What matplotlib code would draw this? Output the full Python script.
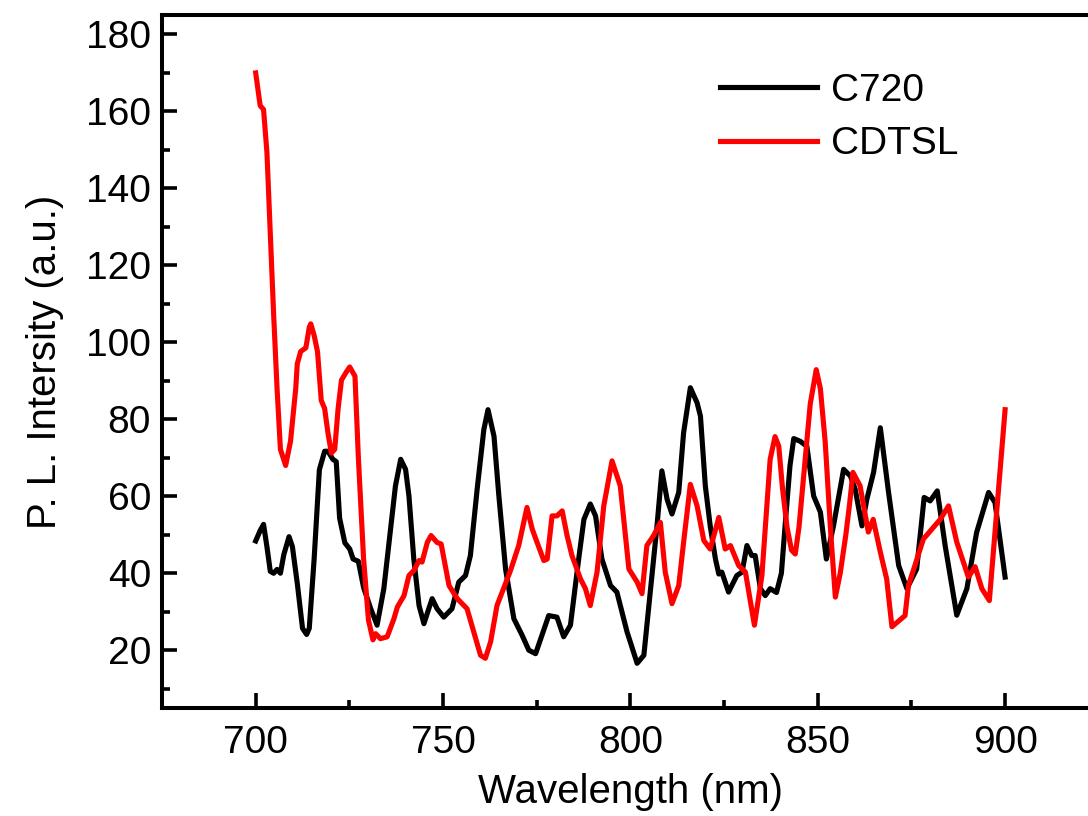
import matplotlib
matplotlib.use("Agg")
import matplotlib.pyplot as plt
from matplotlib.ticker import MultipleLocator

# -------------------------------
# PL spectra: C720 vs CDTSL
# -------------------------------

c720_nm = [700, 701.2, 702.1, 703, 703.9, 704.8, 705.7, 706.6, 707.5, 708.9, 709.8,
           711.1, 712.5, 713.6, 714.3, 715.6, 717, 718.4, 719.3, 720.6, 721.5, 722.4,
           723.8, 725.1, 726, 727.4, 728.8, 730.7, 732.4, 734.2, 736, 737.3, 738.7,
           740, 740.9, 742.2, 743.6, 744.9, 746.2, 747.1, 748.4, 750.2, 752.4, 754.2,
           756, 757.3, 759.1, 760.9, 762, 763.6, 764.9, 766.7, 768.9, 771.1, 772.9,
           774.7, 776.4, 778.2, 780.4, 782.2, 784, 786.2, 787.6, 789.3, 790.7, 792.4,
           794.7, 796.4, 799.1, 801.8, 803.6, 805.3, 807.1, 808.4, 809.8, 811.1, 812.9,
           814.2, 816, 817.8, 818.7, 820, 821.3, 822.7, 823.6, 824.4, 826.2, 828.4,
           829.8, 831.1, 832.4, 833.3, 834.7, 836, 837.3, 839, 840.3, 841.5, 842.6,
           843.6, 845.3, 847.1, 848.9, 850.7, 852.3, 854.2, 856.9, 858.7, 860, 861.8,
           863.1, 864.9, 866.7, 868.9, 871.6, 873.8, 876.4, 878.4, 880, 881.9, 884,
           887.1, 889.8, 892.4, 895.6, 897.3, 900]
c720_pl = [48.4, 51.1, 52.7, 46.9, 40.5, 40, 41, 40, 44.8, 49.5, 46.9,
           37.4, 25.7, 24.1, 25.7, 43.7, 66.9, 71.7, 71.7, 69.6, 69, 54.3,
           47.9, 46.3, 43.7, 43.1, 36.3, 30.8, 26.5, 36, 51.5, 62.7, 69.6,
           67, 60.1, 43.7, 31.6, 26.9, 30.8, 33.4, 30.8, 28.6, 30.8, 37.7,
           39.4, 44.6, 61.8, 77.4, 82.5, 75.6, 60.1, 41, 28.2, 23.9, 20,
           19.1, 23.9, 29, 28.6, 23.5, 26.5, 43.7, 54, 58, 54.9, 43.7,
           36.8, 35.1, 24.8, 16.6, 18.7, 35.1, 52.3, 66.6, 59.2, 55.4, 61,
           76.5, 88.2, 84.3, 80.8, 62.7, 52.3, 43.7, 39.8, 40.3, 35.1, 39.4,
           40.3, 47.2, 44.6, 44.6, 36, 34.2, 36, 35, 40, 55, 68,
           75, 74.3, 73, 60.1, 55.9, 43.7, 52.3, 67, 65.3, 61.8, 52.3,
           59.2, 66.2, 77.8, 61, 42, 36, 41.1, 59.7, 58.8, 61.4, 47.2,
           29.1, 36, 50.6, 61, 58.4, 39]

cdtsl_nm = [700, 701.2, 702.1, 703, 703.9, 704.8, 705.7, 706.6, 708, 709.3, 710.7,
            711.1, 712, 713.4, 714.3, 714.7, 715.6, 716.5, 717.5, 718.4, 719.3, 720.2,
            721.1, 722, 722.9, 724.2, 725.1, 726.5, 727.4, 728.8, 730.1, 731.3, 732,
            733.3, 735.1, 736.9, 737.8, 739.6, 740.9, 742.2, 743.6, 744.4, 745.8, 746.8,
            748.4, 749.5, 751.6, 753.8, 756.4, 758.2, 760, 761.3, 762.7, 764.4, 768,
            770.2, 772.4, 773.8, 775.1, 776.9, 777.8, 779.1, 780.4, 781.8, 783.1, 784.4,
            786.7, 788, 789.3, 791.1, 792.9, 795.1, 797.3, 799.6, 801.8, 803.1, 804.4,
            806.2, 808, 809.3, 811.1, 812.9, 814.2, 816, 817.8, 819.6, 821.3, 823.6,
            825.3, 826.7, 828.9, 830.7, 833.1, 835.1, 837.3, 838.6, 839.6, 840.6, 841.8,
            843, 844, 845, 846.5, 848, 849.6, 850.7, 852, 853.5, 854.7, 856,
            857.5, 858.5, 859.4, 861.3, 863.5, 864.8, 866.7, 868.4, 869.8, 873.3, 874.2,
            878.2, 882.7, 884.9, 887.1, 890.2, 892, 893.8, 895.8, 900]
cdtsl_pl = [170, 161.5, 160.5, 149.4, 128.2, 107.1, 88.1, 72.2, 68, 74.3, 88.1,
            94.4, 97.6, 98.6, 103.9, 104.8, 101.8, 97.6, 84.9, 82.8, 76.4, 71.2,
            72.2, 82.8, 90.2, 92.3, 93.6, 91.2, 70.1, 43.7, 27.8, 22.7, 24.3,
            23, 23.5, 28.2, 31.2, 34.2, 39.4, 40.7, 43.3, 42.9, 48, 49.8,
            48, 47.6, 36.8, 33.4, 30.8, 24.8, 18.7, 17.9, 22.2, 31.6, 40.7,
            47.2, 57.1, 51.5, 48, 43.3, 43.7, 54.9, 54.9, 56.2, 49.8, 44.6,
            38.5, 36, 31.6, 40.3, 57.5, 69.2, 62.7, 41.1, 37.7, 34.7, 47.2,
            49.8, 53.2, 40.3, 32.1, 36.8, 48, 63.1, 57.5, 48.5, 46.3, 54.5,
            46.3, 47.2, 42, 40.3, 26.5, 39.4, 69.6, 75.5, 73, 62, 52,
            46, 45, 52, 68, 84, 92.9, 88, 74, 50, 33.8, 40,
            50, 58, 66.2, 62.7, 50.7, 54, 45.5, 38.5, 26.1, 29, 36.8,
            48.9, 54, 57.5, 48.1, 39, 41.7, 36, 32.9, 82.5]

plt.rcParams["font.family"] = ["Liberation Sans", "DejaVu Sans"]

fig = plt.figure(figsize=(10.88, 8.16), dpi=100)
ax = fig.add_axes([0.1489, 0.1324, 0.861, 0.849])

ax.plot(c720_nm, c720_pl, color="black", lw=3.7, label="C720")
ax.plot(cdtsl_nm, cdtsl_pl, color="#ff0000", lw=3.7, label="CDTSL")

ax.set_xlim(675, 925)
ax.set_ylim(5, 185)
ax.xaxis.set_major_locator(MultipleLocator(50))
ax.xaxis.set_minor_locator(MultipleLocator(25))
ax.yaxis.set_major_locator(MultipleLocator(20))
ax.yaxis.set_minor_locator(MultipleLocator(10))
ax.tick_params(which="both", direction="in", width=2.6, top=False, right=False)
ax.tick_params(which="major", length=10.5)
ax.tick_params(which="minor", length=5.5)
ax.tick_params(axis="y", labelsize=28, pad=8)
ax.tick_params(axis="x", labelsize=28, pad=12)
for s in ax.spines.values():
    s.set_linewidth(2.9)

ax.set_xlabel("Wavelength (nm)", fontsize=29, labelpad=9)
ax.set_ylabel("P. L. Intersity (a.u.)", fontsize=29, labelpad=16)

ax.legend(loc="upper left", bbox_to_anchor=(0.662, 0.911), bbox_transform=fig.transFigure,
          frameon=False, fontsize=28, handlelength=2.5, handletextpad=0.35,
          labelspacing=0.45, borderpad=0, borderaxespad=0)

plt.savefig("out.png", dpi=100)
